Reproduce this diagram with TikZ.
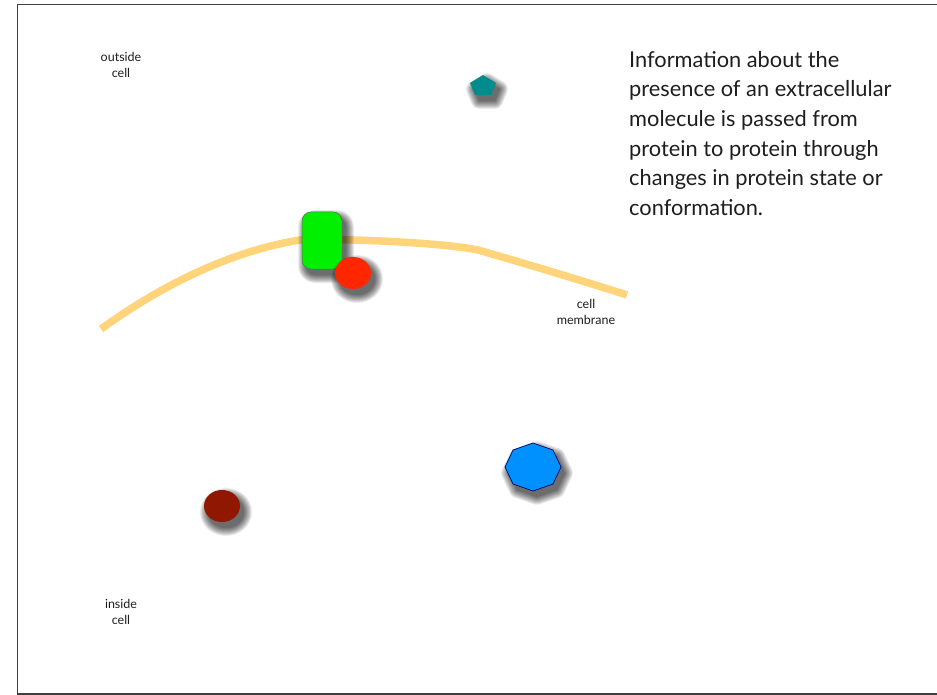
\documentclass[tikz,border=0pt]{standalone}
\usepackage{fontspec}
\setmainfont{Lato}
\usetikzlibrary{shapes.geometric}
\definecolor{membr}{RGB}{255,212,122}
\definecolor{teal1}{RGB}{0,140,140}
\definecolor{green1}{RGB}{0,240,0}
\definecolor{red1}{RGB}{255,38,0}
\definecolor{blue1}{RGB}{0,145,255}
\definecolor{dred}{RGB}{145,24,0}
\definecolor{txt}{RGB}{30,30,30}
\newcommand\pentpath{(483,75) -- (496,83) -- (491,95) -- (475,95) -- (470,83) -- cycle}
\newcommand\recpath{[rounded corners=9pt] (302,212) rectangle (342,269)}
\newcommand\redpath{(353,273) ellipse [x radius=18, y radius=16]}
\newcommand\octpath{(561,467) -- (553,450) -- (533,443) -- (513,450) -- (505,467) -- (513,484) -- (533,491) -- (553,484) -- cycle}
\newcommand\dredpath{(222,506) ellipse [x radius=18, y radius=16]}
\newcommand\softshadow[1]{%
  \foreach \w in {16,14.5,13,11.5,10,8.5,7,5.5,4,2.5,1,0.1}{%
    \begin{scope}[transparency group, opacity=0.065]
    \filldraw[black, line width=\w pt, line join=round, shift={(4,6)}] #1;
    \end{scope}}}
\begin{document}
\begin{tikzpicture}[x=1pt,y=-1pt,
  small/.style={font=\fontsize{12.5}{16.8}\selectfont, text=txt, align=center, inner sep=0},
  body/.style={font=\fontsize{21.8}{29.6}\selectfont, text=txt, align=left, inner sep=0, anchor=north west}]
\useasboundingbox (0,0) rectangle (937,695);
\fill[white] (0,0) rectangle (937,695);
\draw[line width=1.2pt, black!75] (937,4.5) -- (17.5,4.5) -- (17.5,694) -- (937,694);

% membrane
\draw[membr, line width=7.5pt] (101,329) .. controls (155,290) and (225,252) .. (300,240)
  .. controls (330,238) and (440,242) .. (478,250) .. controls (520,262) and (580,280) .. (627,295);

% labels
\node[small] (outside) at (121,65) {outside\\cell};
\node[small] (inside) at (121,612) {inside\\cell};
\node[small] (memb) at (586,312) {cell\\membrane};
\node[body] (info) at (629,51) {Information about the\\presence of an extracellular\\molecule is passed from\\protein to protein through\\changes in protein state or\\conformation.};

% pentagon
\softshadow{\pentpath}
\fill[teal1] \pentpath;

% green receptor
\softshadow{\recpath}
\filldraw[fill=green1, draw=black!60, line width=0.5pt] \recpath;
% red
\softshadow{\redpath}
\fill[red1] \redpath;

% blue octagon
\softshadow{\octpath}
\filldraw[fill=blue1, draw=blue!40!black, line width=0.7pt] \octpath;

% dark red
\softshadow{\dredpath}
\fill[dred] \dredpath;
\end{tikzpicture}
\end{document}
